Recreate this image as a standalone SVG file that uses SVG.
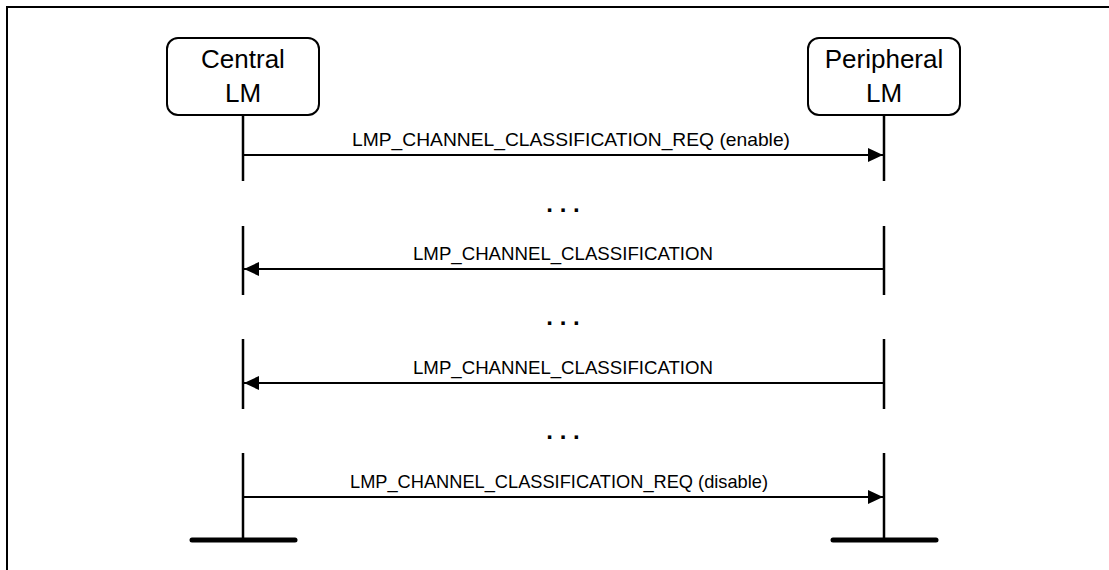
<svg xmlns="http://www.w3.org/2000/svg" width="1109" height="570" viewBox="0 0 1109 570">
<style>
.frame{fill:none;stroke:#000;stroke-width:2}
.box{fill:#fff;stroke:#000;stroke-width:2}
.life{stroke:#000;stroke-width:2.5;fill:none}
.msg{stroke:#000;stroke-width:2;fill:none}
.bar{stroke:#000;stroke-width:5;stroke-linecap:round}
.name{font-family:"Liberation Sans",Arial,sans-serif;font-size:26px;text-anchor:middle;fill:#000}
.lbl{font-family:"Liberation Sans",Arial,sans-serif;font-size:18.5px;text-anchor:middle;fill:#000}
.dots{font-family:"Liberation Sans",Arial,sans-serif;font-size:24px;font-weight:bold;text-anchor:middle;fill:#000}
</style>
<defs>
<marker id="ah" viewBox="0 0 15 14" refX="15" refY="7" markerWidth="15" markerHeight="14" markerUnits="userSpaceOnUse" orient="auto">
<path d="M0,0 L15,7 L0,14 Z" fill="#000"/>
</marker>
</defs>
<rect width="1109" height="570" fill="#fff"/>
<path class="frame" d="M7,570 L7,7 L1109,7"/>
<g id="central">
<rect class="box" x="167" y="38" width="152" height="77" rx="11"/>
<text class="name" x="243" y="68">Central</text>
<text class="name" x="243" y="102">LM</text>
<path class="life" d="M243,115 V181 M243,226 V295 M243,339 V409 M243,453 V540"/>
<line class="bar" x1="192" y1="540" x2="295" y2="540"/>
</g>
<g id="peripheral">
<rect class="box" x="808" y="38" width="152" height="77" rx="11"/>
<text class="name" x="884" y="68">Peripheral</text>
<text class="name" x="884" y="102">LM</text>
<path class="life" d="M884,115 V181 M884,226 V295 M884,339 V409 M884,453 V540"/>
<line class="bar" x1="833" y1="540" x2="936" y2="540"/>
</g>
<g id="connectors">
<line class="msg" x1="243" y1="155" x2="883" y2="155" marker-end="url(#ah)"/>
<line class="msg" x1="884" y1="269" x2="244" y2="269" marker-end="url(#ah)"/>
<line class="msg" x1="884" y1="383" x2="244" y2="383" marker-end="url(#ah)"/>
<line class="msg" x1="243" y1="497" x2="883" y2="497" marker-end="url(#ah)"/>
</g>
<g id="labels">
<text class="lbl" x="571" y="146" textLength="438" lengthAdjust="spacingAndGlyphs">LMP_CHANNEL_CLASSIFICATION_REQ (enable)</text>
<text class="lbl" x="563" y="260" textLength="300" lengthAdjust="spacingAndGlyphs">LMP_CHANNEL_CLASSIFICATION</text>
<text class="lbl" x="563" y="374" textLength="300" lengthAdjust="spacingAndGlyphs">LMP_CHANNEL_CLASSIFICATION</text>
<text class="lbl" x="559" y="488" textLength="418" lengthAdjust="spacingAndGlyphs">LMP_CHANNEL_CLASSIFICATION_REQ (disable)</text>
<text class="dots" x="563" y="212">. . .</text>
<text class="dots" x="563" y="325">. . .</text>
<text class="dots" x="563" y="439">. . .</text>
</g>
</svg>
